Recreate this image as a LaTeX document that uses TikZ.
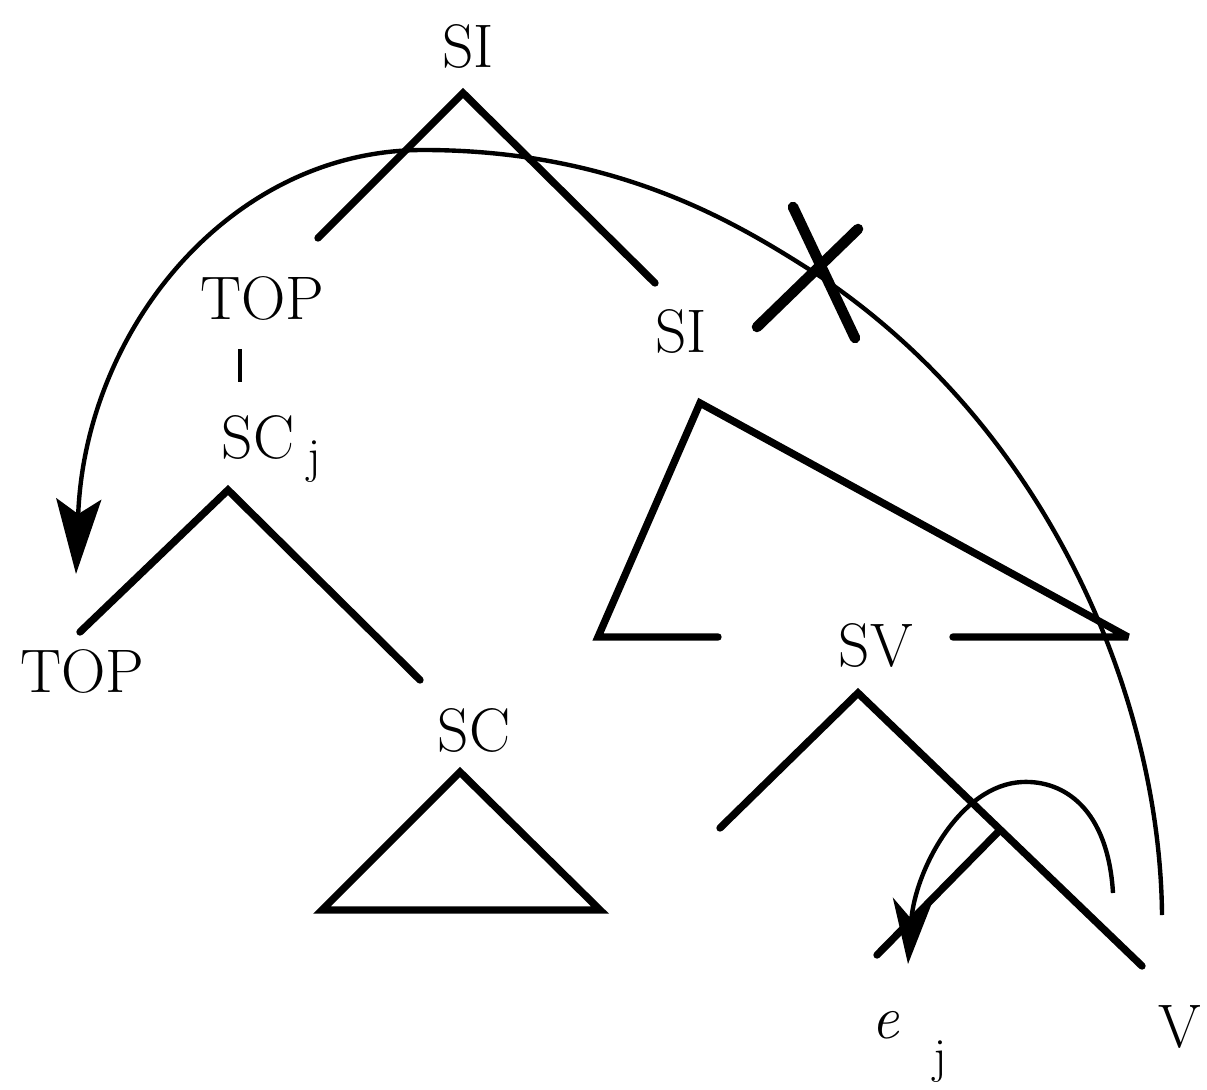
\documentclass[tikz,border=0pt]{standalone}
\usepackage{tikz}
\usetikzlibrary{arrows.meta}

\begin{document}
\begin{tikzpicture}[x=0.2mm,y=-0.2mm,branch/.style={line width=4.2pt,line cap=round},movement/.style={line width=2.5pt},cat/.style={inner sep=0pt,font=\fontsize{35}{40}\selectfont},idx/.style={inner sep=0pt,font=\fontsize{28}{32}\selectfont}]
\useasboundingbox (0,0) rectangle (1207,1090);
% upper SI
\coordinate (SIa) at (463,93);
\coordinate (SIl) at (318,238);
\coordinate (SIr) at (655,283);
\draw[branch] (SIl) -- (SIa) -- (SIr);
% topic
\coordinate (Tt) at (240,349);
\coordinate (Tb) at (240,382);
\draw[line width=2.4pt] (Tt) -- (Tb);
\coordinate (SCa) at (228,490);
\coordinate (SCl) at (80,632);
\coordinate (SCr) at (420,680);
\draw[branch] (SCl) -- (SCa) -- (SCr);
\coordinate (Da) at (460,772);
\coordinate (Dl) at (322,910);
\coordinate (Dr) at (600,910);
\draw[branch,line join=miter] (Da) -- (Dl) -- (Dr) -- cycle;
% lower SI
\coordinate (Ia) at (700,403);
\coordinate (Il) at (598,637);
\coordinate (Ilx) at (718,637);
\coordinate (Ir) at (1128,637);
\coordinate (Irx) at (953,637);
\draw[branch,line join=miter,miter limit=2] (Ilx) -- (Il) -- (Ia) -- (Ir) -- (Irx);
% SV
\coordinate (Va) at (858,693);
\coordinate (Vl) at (720,828);
\coordinate (Vr) at (1142,966);
\coordinate (Vb) at (1000,830);
\coordinate (Ve) at (877,955);
\draw[branch] (Vl) -- (Va) -- (Vr);
\draw[branch] (Vb) -- (Ve);
% movements
\coordinate (Ms) at (1162,915);
\coordinate (Mx) at (818,275);
\coordinate (Mt) at (423,150);
\coordinate (Me) at (76,574);
\draw[movement,-{Stealth[length=15mm,width=9mm,inset=3mm]}] (Ms) .. controls (1160,700) and (1050,430) .. (Mx) .. controls (740,225) and (620,150) .. (Mt) .. controls (230,150) and (85,330) .. (Me);
\coordinate (ms) at (1113,893);
\coordinate (mt) at (1022,782);
\coordinate (me) at (908,964);
\draw[movement,-{Stealth[length=13mm,width=8mm,inset=4mm]}] (ms) .. controls (1108,810) and (1065,780) .. (mt) .. controls (960,785) and (915,870) .. (me);
% blocked
\draw[line width=6pt,line cap=round] (793,207) -- (855,338);
\draw[line width=6pt,line cap=round] (757,327) -- (858,229);
% labels
\node[cat] (si) at (468,46) {SI};
\node[cat] (top) at (262,298) {TOP};
\node[cat] (scj) at (258,437) {SC};
\node[idx] (jone) at (314,462) {j};
\node[cat] (topb) at (82,671) {TOP};
\node[cat] (sc) at (474,730) {SC};
\node[cat] (sib) at (681,331) {SI};
\node[cat] (sv) at (876,645) {SV};
\node[cat] (ve) at (1180,1027) {V};
\node[cat] (e) at (885,1025) {\itshape e};
\node[idx] (jtwo) at (940,1062) {j};
\end{tikzpicture}
\end{document}
